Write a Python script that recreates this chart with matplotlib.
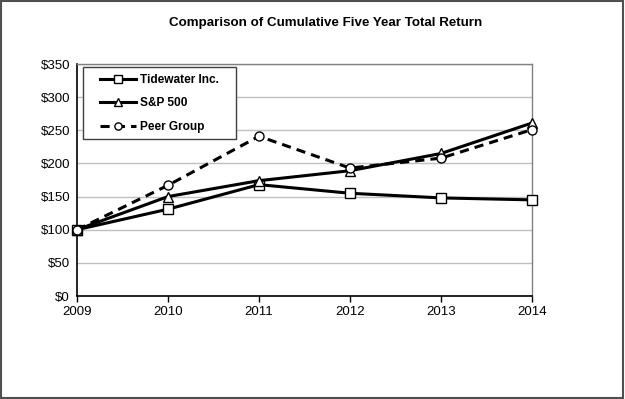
import matplotlib.pyplot as plt
from matplotlib.patches import Rectangle

plt.rcParams['font.family'] = ['Liberation Sans', 'DejaVu Sans']

years = [2009, 2010, 2011, 2012, 2013, 2014]
tidewater = [100, 131, 168, 155, 148, 145]
sp500 = [100, 150, 174, 189, 215, 261]
peer_group = [100, 167, 241, 193, 208, 251]
y_ticks = [0, 50, 100, 150, 200, 250, 300, 350]

W, H = 625, 399
fig = plt.figure(figsize=(W / 100, H / 100), dpi=100)
ax = fig.add_axes([77/W, 1 - 296/H, (532-77)/W, (296-64)/H])

style = dict(color='black', lw=2.2, ms=6.5, mfc='white', mec='black', mew=1.0,
             zorder=3, clip_on=False)
ax.plot(years, tidewater, marker='s', label='Tidewater Inc.', **style)
ax.plot(years, sp500, marker='^', label='S&P 500', **style)
ax.plot(years, peer_group, marker='o', ls=(0, (3, 2)), label='Peer Group', **style)

ax.set_xlim(2009, 2014)
ax.set_ylim(0, 350)
ax.set_xticks(years)
ax.set_xticklabels([str(y) for y in years])
ax.set_yticks(y_ticks)
ax.set_yticklabels(['$%d' % v for v in y_ticks])
ax.tick_params(axis='x', direction='out', length=4, width=1, labelsize=9.5, pad=3)
ax.tick_params(axis='y', length=0, labelsize=9.5, pad=5)
ax.grid(axis='y', color='#c0c0c0', lw=1)
ax.set_axisbelow(True)
for side in ['top', 'right']:
    ax.spines[side].set_color('#808080')
    ax.spines[side].set_linewidth(1)
for side in ['left', 'bottom']:
    ax.spines[side].set_color('black')
    ax.spines[side].set_linewidth(1.2)

# legend box drawn separately so padding can match the original
ax.add_patch(Rectangle((83/W, 1 - 139/H), 153/W, 72/H, transform=fig.transFigure,
                       facecolor='white', edgecolor='#404040', lw=1,
                       zorder=4, clip_on=False))
leg = ax.legend(loc='upper left', bbox_to_anchor=(100/W, 1 - 74/H),
                bbox_transform=fig.transFigure, frameon=False, borderpad=0,
                borderaxespad=0, prop={'weight': 'bold', 'size': 8.6},
                handlelength=3.0, handletextpad=0.35, labelspacing=0.95,
                markerscale=0.8)
leg.set_zorder(5)

fig.text(326/W, 1 - 23/H, 'Comparison of Cumulative Five Year Total Return',
         ha='center', va='center', fontsize=9.6, fontweight='bold')

fig.patches.append(Rectangle((0.002, 0.003), 0.994, 0.994, transform=fig.transFigure,
                             fill=False, edgecolor='#505050', lw=1.5))

fig.savefig('out.png', dpi=100)
